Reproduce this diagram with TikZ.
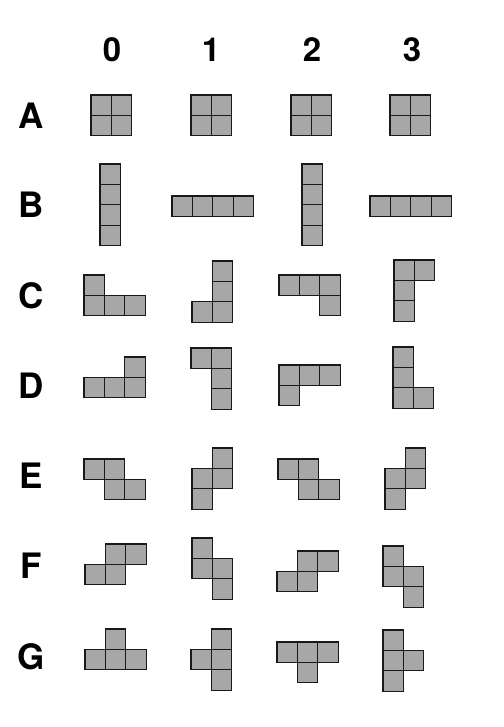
\documentclass[tikz,border=0pt]{standalone}
\usepackage{fontspec}
\setmainfont{TeX Gyre Heros}
\usetikzlibrary{positioning}

\definecolor{tilegray}{RGB}{166,167,166}
\tikzset{
  cell/.style={draw=black!90,fill=tilegray,line width=1.3pt},
  head/.style={font=\bfseries\fontsize{33}{33}\selectfont,inner sep=0pt},
  rowname/.style={font=\bfseries\fontsize{35}{35}\selectfont,inner sep=0pt}
}

\begin{document}
\begin{tikzpicture}[x=1pt,y=-1pt]
        \useasboundingbox (0,0) rectangle (503,727);

        % column numbers
        \foreach \c/\x in {0/112,1/211,2/312,3/412}
                \node[head] (col \c) at (\x,50) {\c};

        % row letters
        \foreach \r/\y in {A/115.5,B/204.5,C/295.5,D/385.5,E/476,F/566,G/656.5}
                \node[rowname] (row \r) at (31,\y) {\r};

        % pieces: origin x / origin y / cells
        \foreach \ox/\oy/\cells in {
                91/95/{0/0,1/0,0/1,1/1}, 191/95/{0/0,1/0,0/1,1/1},
                291/95/{0/0,1/0,0/1,1/1}, 390/95/{0/0,1/0,0/1,1/1},
                100/164/{0/0,0/1,0/2,0/3}, 172/196/{0/0,1/0,2/0,3/0},
                302/164/{0/0,0/1,0/2,0/3}, 370/196/{0/0,1/0,2/0,3/0},
                84/275/{0/0,0/1,1/1,2/1}, 192/261/{1/0,1/1,1/2,0/2},
                279/275/{0/0,1/0,2/0,2/1}, 394/260/{0/0,1/0,0/1,0/2},
                84/357/{2/0,0/1,1/1,2/1}, 191/348/{0/0,1/0,1/1,1/2},
                279/365/{0/0,1/0,2/0,0/1}, 393/347/{0/0,0/1,0/2,1/2},
                84/459/{0/0,1/0,1/1,2/1}, 192/448/{1/0,0/1,1/1,0/2},
                278/459/{0/0,1/0,1/1,2/1}, 385/448/{1/0,0/1,1/1,0/2},
                85/544/{1/0,2/0,0/1,1/1}, 192/538/{0/0,0/1,1/1,1/2},
                277/551/{1/0,2/0,0/1,1/1}, 383/546/{0/0,0/1,1/1,1/2},
                85/629/{1/0,0/1,1/1,2/1}, 191/629/{1/0,0/1,1/1,1/2},
                277/642/{0/0,1/0,2/0,1/1}, 383/630/{0/0,0/1,1/1,0/2}}
                \foreach \i/\j in \cells
                        \draw[cell] (\ox+\i*20.4,\oy+\j*20.4) rectangle ++(20.4,20.4);
\end{tikzpicture}
\end{document}
